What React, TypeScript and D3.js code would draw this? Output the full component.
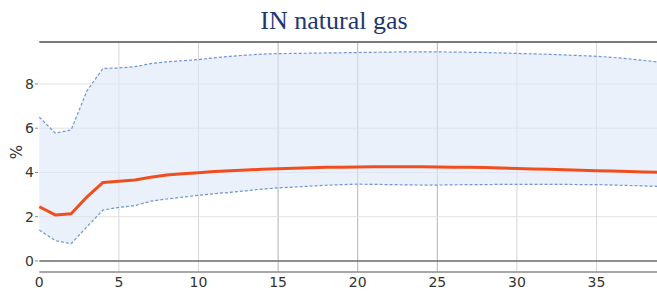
import React, { useRef, useEffect } from "react";
import * as d3 from "d3";

// horizons 0..40
const horizon = d3.range(0, 41);
const median = [2.45, 2.08, 2.13, 2.9, 3.55, 3.6, 3.66, 3.78, 3.88, 3.94, 3.99, 4.04, 4.08, 4.11, 4.14, 4.17, 4.19, 4.21, 4.23, 4.24, 4.25, 4.26, 4.26, 4.26, 4.26, 4.25, 4.24, 4.23, 4.22, 4.2, 4.18, 4.16, 4.14, 4.12, 4.1, 4.08, 4.06, 4.04, 4.02, 4.0, 3.99];
const upper = [6.5, 5.78, 5.92, 7.7, 8.7, 8.72, 8.78, 8.92, 9.0, 9.05, 9.1, 9.18, 9.25, 9.3, 9.35, 9.37, 9.38, 9.39, 9.4, 9.41, 9.42, 9.43, 9.44, 9.45, 9.45, 9.45, 9.44, 9.43, 9.42, 9.4, 9.38, 9.36, 9.34, 9.31, 9.28, 9.25, 9.2, 9.14, 9.06, 8.98, 8.9];
const lower = [1.4, 0.92, 0.78, 1.55, 2.3, 2.42, 2.5, 2.7, 2.8, 2.88, 2.97, 3.04, 3.1, 3.17, 3.25, 3.3, 3.34, 3.38, 3.42, 3.45, 3.47, 3.46, 3.45, 3.44, 3.43, 3.43, 3.44, 3.45, 3.45, 3.46, 3.46, 3.46, 3.46, 3.46, 3.45, 3.45, 3.43, 3.41, 3.39, 3.37, 3.35];
const xTicks = [0, 5, 10, 15, 20, 25, 30, 35];
const yTicks = [0, 2, 4, 6, 8];
const title = "IN natural gas";

const App: React.FC = () => {
  const ref = useRef<SVGSVGElement>(null);

  useEffect(() => {
    if (!ref.current) return;
    const svg = d3.select(ref.current);
    svg.selectAll("*").remove();

    const width = 657;
    const height = 291;
    const x = d3.scaleLinear().domain([0, 40]).range([39.3, 39.3 + 40 * 15.92]);
    const y = d3.scaleLinear().domain([-0.5, 9.9]).range([272, 41.9]);

    svg.attr("width", width).attr("height", height);
    svg.append("rect").attr("width", width).attr("height", height).attr("fill", "#fff");

    // title
    svg.append("text")
      .attr("x", 334).attr("y", 29)
      .attr("text-anchor", "middle")
      .attr("font-family", "Liberation Serif, Times New Roman, serif")
      .attr("font-size", 26)
      .attr("fill", "#1f3770")
      .text(title);

    const plot = svg.append("g");

    // grid
    plot.selectAll(".gx").data(xTicks.filter((d) => d > 0)).enter().append("line")
      .attr("x1", (d) => x(d)).attr("x2", (d) => x(d))
      .attr("y1", y(9.9)).attr("y2", y(-0.5))
      .attr("stroke", (d) => (d >= 15 && d <= 25 ? "#b4b4b8" : "#d6d6da"))
      .attr("stroke-width", 1);
    plot.selectAll(".gy").data(yTicks.filter((d) => d > 0)).enter().append("line")
      .attr("x1", x(0)).attr("x2", width)
      .attr("y1", (d) => y(d)).attr("y2", (d) => y(d))
      .attr("stroke", "#e2e2e2").attr("stroke-width", 1);

    const idx = horizon.map((_, i) => i);

    // band
    const area = d3.area<number>()
      .x((i) => x(horizon[i]))
      .y0((i) => y(lower[i]))
      .y1((i) => y(upper[i]));
    plot.append("path").datum(idx).attr("d", area)
      .attr("fill", "#dce7f8").attr("fill-opacity", 0.6);

    const line = (arr: number[]) =>
      d3.line<number>().x((i) => x(horizon[i])).y((i) => y(arr[i]))(idx);

    [upper, lower].forEach((arr) => {
      plot.append("path").attr("d", line(arr))
        .attr("fill", "none").attr("stroke", "#6e95d6")
        .attr("stroke-width", 1.2).attr("stroke-dasharray", "3,2");
    });

    plot.append("path").attr("d", line(median))
      .attr("fill", "none").attr("stroke", "#f04e1e")
      .attr("stroke-width", 3).attr("stroke-linejoin", "round");

    // borders
    plot.append("line").attr("x1", x(0)).attr("x2", width)
      .attr("y1", y(9.9)).attr("y2", y(9.9))
      .attr("stroke", "#7a7a7a").attr("stroke-width", 2);
    plot.append("line").attr("x1", x(0)).attr("x2", width)
      .attr("y1", y(0)).attr("y2", y(0))
      .attr("stroke", "#6a6a6a").attr("stroke-width", 1.6);
    plot.append("line").attr("x1", x(0)).attr("x2", width)
      .attr("y1", y(-0.5)).attr("y2", y(-0.5))
      .attr("stroke", "#8a8a8a").attr("stroke-width", 1.6);

    // y axis ticks/labels
    const yAxis = svg.append("g");
    yAxis.selectAll("line").data(yTicks).enter().append("line")
      .attr("x1", 35).attr("x2", 38)
      .attr("y1", (d) => y(d)).attr("y2", (d) => y(d))
      .attr("stroke", "#888");
    yAxis.selectAll("text").data(yTicks).enter().append("text")
      .attr("x", 34).attr("y", (d) => y(d) + 5)
      .attr("text-anchor", "end")
      .attr("font-family", "DejaVu Sans, sans-serif")
      .attr("font-size", 14)
      .attr("fill", "#333")
      .text((d) => d);

    svg.append("text")
      .attr("transform", `translate(21.5,152) rotate(-90)`)
      .attr("text-anchor", "middle")
      .attr("font-family", "DejaVu Sans, sans-serif")
      .attr("font-size", 15)
      .attr("fill", "#333")
      .text("%");

    // x labels
    svg.append("g").selectAll("text").data(xTicks).enter().append("text")
      .attr("x", (d) => x(d)).attr("y", 287)
      .attr("text-anchor", "middle")
      .attr("font-family", "DejaVu Sans, sans-serif")
      .attr("font-size", 14)
      .attr("fill", "#333")
      .text((d) => d);
  }, []);

  return (
    <div style={{ position: "absolute", left: 0, top: 0 }}>
      <svg ref={ref} style={{ display: "block" }} />
    </div>
  );
};

export default App;
